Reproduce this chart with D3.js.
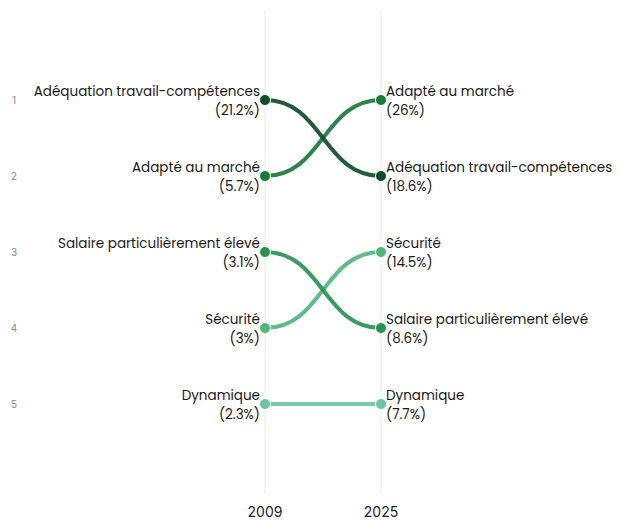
<!DOCTYPE html>
<html>
<head>
<meta charset="utf-8">
<script src="https://cdn.jsdelivr.net/npm/d3@7"></script>
<style>
  body { margin: 0; background: #fff; }
  svg text { font-family: "Poppins", Inter, "Open Sans", sans-serif; }
</style>
</head>
<body>
<div id="chart"></div>
<script>
// --- DATOS ---
const years = ["2009", "2025"];
const categories = ["Adéquation travail-compétences", "Adapté au marché", "Salaire particulièrement élevé", "Sécurité", "Dynamique"];
const rank2009 = [1, 2, 3, 4, 5];
const rank2025 = [2, 1, 4, 3, 5];
const pct2009 = ["21.2%", "5.7%", "3.1%", "3%", "2.3%"];
const pct2025 = ["18.6%", "26%", "8.6%", "14.5%", "7.7%"];
const colors = ["#0f4d27", "#1a7a3d", "#2a9151", "#4fb67f", "#6cc59e"];
const rankTicks = [1, 2, 3, 4, 5];

const width = 636, height = 530;

const svg = d3.select("#chart").append("svg")
    .attr("width", width)
    .attr("height", height);

const x = d3.scalePoint().domain(years).range([265, 381]);
const y = d3.scaleLinear().domain([0, 6]).range([24, 480]);

// Líneas verticales de cuadrícula
svg.append("g").selectAll("line")
    .data(years)
    .join("line")
    .attr("x1", d => x(d)).attr("x2", d => x(d))
    .attr("y1", 10).attr("y2", 494)
    .attr("stroke", "#ececec")
    .attr("stroke-width", 1);

// Eje de años
svg.append("g").selectAll("text")
    .data(years)
    .join("text")
    .attr("x", d => x(d))
    .attr("y", 517)
    .attr("text-anchor", "middle")
    .style("font-size", "14px")
    .style("font-family", "Inter, sans-serif")
    .attr("fill", "#222")
    .text(d => d);

// Rangos
svg.append("g").selectAll("text")
    .data(rankTicks)
    .join("text")
    .attr("x", 14)
    .attr("y", d => y(d) + 4)
    .attr("text-anchor", "middle")
    .style("font-size", "10px")
    .style("font-family", "Inter, sans-serif")
    .attr("fill", "#8a8a8a")
    .text(d => d);

const data = categories.map((c, i) => ({
    name: c, r0: rank2009[i], r1: rank2025[i], p0: pct2009[i], p1: pct2025[i], color: colors[i]
}));

const link = d3.linkHorizontal();

// Curvas
svg.append("g").selectAll("path")
    .data(data.slice().reverse())
    .join("path")
    .attr("d", d => link({ source: [x(years[0]), y(d.r0)], target: [x(years[1]), y(d.r1)] }))
    .attr("fill", "none")
    .attr("stroke", d => d.color)
    .attr("stroke-width", 4)
    .attr("stroke-opacity", 0.92);

// Puntos
years.forEach((yr, k) => {
    svg.append("g").selectAll("circle")
        .data(data)
        .join("circle")
        .attr("cx", x(yr))
        .attr("cy", d => y(k === 0 ? d.r0 : d.r1))
        .attr("r", 5.5)
        .attr("fill", d => d.color)
        .attr("stroke", "#fff")
        .attr("stroke-width", 1);
});

// Etiquetas
function labels(k) {
    const g = svg.append("g");
    const lx = k === 0 ? x(years[0]) - 5 : x(years[1]) + 5;
    const anchor = k === 0 ? "end" : "start";
    const t = g.selectAll("text")
        .data(data)
        .join("text")
        .attr("x", lx)
        .attr("text-anchor", anchor)
        .style("font-size", "13.5px")
        .attr("fill", "#1a1a1a");
    t.append("tspan")
        .attr("x", lx)
        .attr("y", d => y(k === 0 ? d.r0 : d.r1) - 4)
        .text(d => d.name);
    t.append("tspan")
        .attr("x", lx)
        .attr("y", d => y(k === 0 ? d.r0 : d.r1) + 15)
        .text(d => "(" + (k === 0 ? d.p0 : d.p1) + ")");
}
labels(0);
labels(1);
</script>
</body>
</html>
